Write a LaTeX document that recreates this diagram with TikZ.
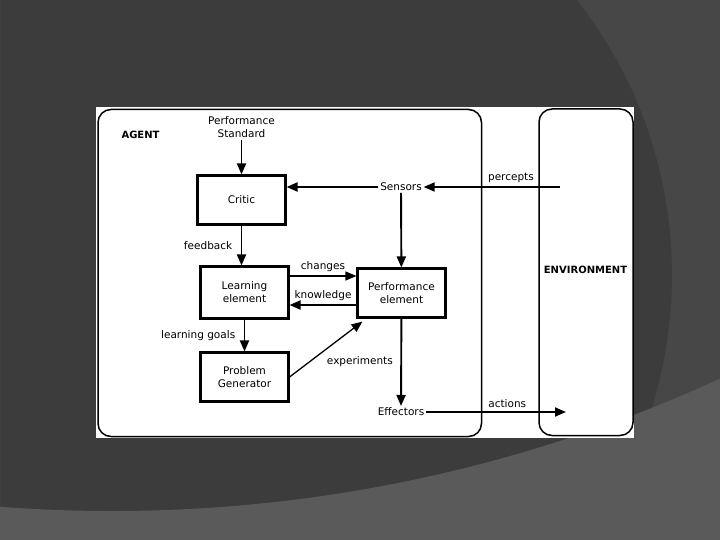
\documentclass[tikz,border=0pt]{standalone}
\usepackage{fontspec}
\setmainfont{DejaVu Sans}
\usepackage{tikz}
\usetikzlibrary{positioning}
\usetikzlibrary{arrows.meta}
\definecolor{slidedark}{HTML}{3C3C3C}
\definecolor{slidemid}{HTML}{474747}
\definecolor{slidelight}{HTML}{5A5A5A}

\begin{document}
\begin{tikzpicture}[x=1pt, y=-1pt, ->, >={Triangle[length=11pt,width=9pt]}, line width=1.9pt,
        font=\fontsize{10.5}{13}\selectfont,
        blockbox/.style={draw=black, line width=2.1pt, minimum width=88pt, minimum height=49pt, align=center},
        framebox/.style={-, draw=black, line width=1.5pt, rounded corners=13pt},
        plain/.style={inner sep=1pt, align=center},
        boldlabel/.style={inner sep=1pt, font=\fontsize{10}{12}\selectfont\bfseries}]
        \useasboundingbox (0,0) rectangle (720,540);

        % slide background
        \begin{scope}
            \clip (0,0) rectangle (720,540);
            \fill[slidedark] (0,0) rectangle (720,540);
            \fill[slidemid, even odd rule] (0,0) rectangle (720,540) (226.5,275) circle (445.5pt);
            \fill[slidelight, even odd rule] (0,0) rectangle (720,540) (112,-948) circle (1459pt);
        \end{scope}
        \fill[white] (96,107) rectangle (634,438);

        % agent and environment
        \draw[framebox] (98,109.5) rectangle (481.5,436.5);
        \draw[framebox] (539,109) rectangle (633,435.5);

        \node[boldlabel]    (agentlbl)    at (140.5,135)   {AGENT};
        \node[boldlabel]    (envlbl)      at (585.5,270)   {ENVIRONMENT};

        \node[plain]        (perfstd)     at (241.5,127)   {Performance\\Standard};
        \node[blockbox]     (critic)      at (241.5,200)   {Critic};
        \node[plain]        (sensors)     at (401,187)     {Sensors};
        \node[blockbox, minimum height=52pt] (learn) at (244.5,292.5) {Learning\\element};
        \node[blockbox]     (perf)        at (401.5,293)   {Performance\\element};
        \node[blockbox]     (probgen)     at (244.5,377)   {Problem\\Generator};
        \node[plain]        (effectors)   at (401,412)     {Effectors};
        \coordinate         (envin)       at (560,187);
        \coordinate         (envout)      at (566,412);


        \path(perfstd)edge(critic);
        \path(envin)edge node[above, pos=0.36] (percl) {percepts}(sensors);
        \path(sensors)edge(sensors -| critic.east);
        \path(sensors)edge(perf);

        \path(critic.south)edge node[left=5pt] (feedl) {feedback}(critic.south |- learn.north);

        \path([yshift=16.5pt]learn.east)edge[line width=1.4pt] node[above] (chgl) {changes}([yshift=16.5pt]learn.east -| perf.west);
        \path([yshift=-12pt]perf.west)edge node[above] (knowl) {knowledge}([yshift=-12pt]perf.west -| learn.east);

        \path(learn)edge node[left=5pt] (goall) {learning goals}(probgen);
        \path(probgen.east)edge[line width=1.3pt] node[anchor=north west, xshift=-3pt, yshift=-3pt] (expl) {experiments}([xshift=6pt,yshift=-3pt]perf.south west);

        \path(perf)edge(effectors);
        \path(effectors)edge node[above, pos=0.58] (actl) {actions}(envout);

    \end{tikzpicture}
\end{document}
